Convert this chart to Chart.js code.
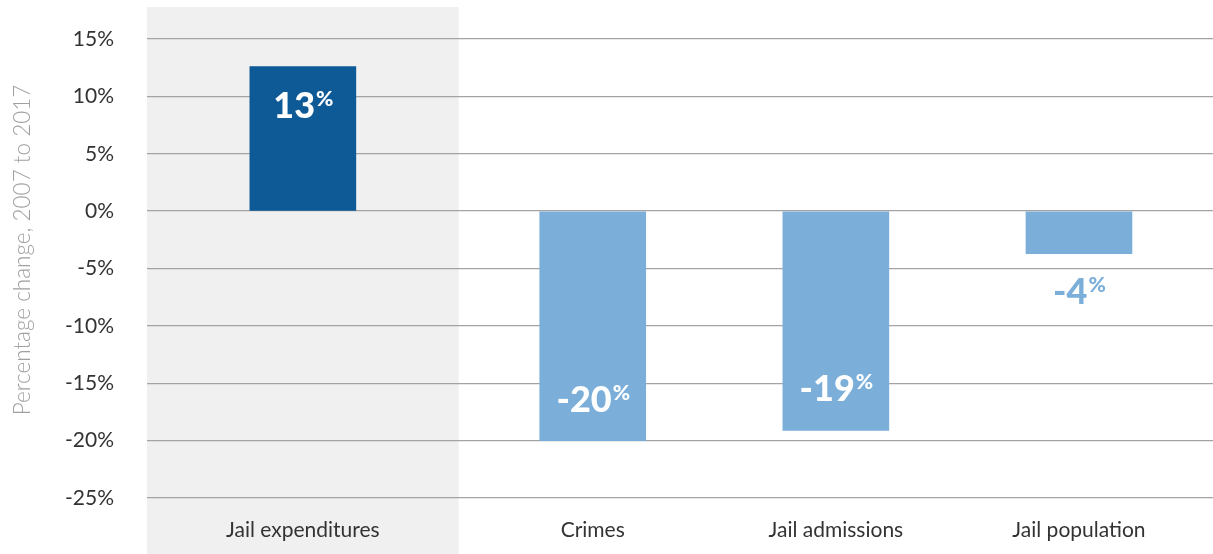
<!DOCTYPE html>
<html><head><meta charset="utf-8">
<script src="https://cdn.jsdelivr.net/npm/chart.js@4.4.1/dist/chart.umd.min.js"></script>
<style>html,body{margin:0;padding:0;background:#fff;}#wrap{width:1213px;height:554px;}</style>
</head><body><div id="wrap"><canvas id="c" width="1213" height="554"></canvas></div>
<script>
// ---- data ----
const categories = ['Jail expenditures', 'Crimes', 'Jail admissions', 'Jail population'];
const changeValues = [12.6, -20, -19.1, -3.7];
const yTickValues = [-25, -20, -15, -10, -5, 0, 5, 10, 15];
const yAxisTitle = 'Percentage change, 2007 to 2017';

// ---- layout (category slot centres on a 0..17.1 unit x-axis) ----
const slotCenters = [2.5, 7.15, 11.05, 14.95];
const highlightRange = [0, 5];
const barColors = ['#0E5A97', '#7BAFDA', '#7BAFDA', '#7BAFDA'];

const bgBand = {
  id: 'bgBand',
  beforeDraw(chart) {
    const {ctx, scales: {x}} = chart;
    ctx.save();
    ctx.fillStyle = '#F0F0F0';
    const x0 = x.getPixelForValue(highlightRange[0]);
    const x1 = x.getPixelForValue(highlightRange[1]);
    ctx.fillRect(x0, 7, x1 - x0, chart.height - 7);
    ctx.restore();
  }
};

const yTitle = {
  id: 'yTitle',
  afterDraw(chart) {
    const ctx = chart.ctx;
    ctx.save();
    ctx.translate(23, 250);
    ctx.rotate(-Math.PI / 2);
    ctx.fillStyle = '#a0a0a0';
    ctx.font = '300 22.5px Lato, "Open Sans", sans-serif';
    ctx.textAlign = 'center';
    ctx.textBaseline = 'middle';
    ctx.fillText(yAxisTitle, 0, 0);
    ctx.restore();
  }
};

const valueLabels = {
  id: 'valueLabels',
  afterDatasetsDraw(chart) {
    const ctx = chart.ctx;
    const meta = chart.getDatasetMeta(0);
    ctx.save();
    meta.data.forEach((bar, i) => {
      const v = changeValues[i];
      const txt = String(Math.round(v));
      const h = Math.abs(bar.base - bar.y);
      let cy, color;
      if (h > 80) {
        color = '#ffffff';
        cy = v >= 0 ? bar.y + 38 : bar.y - 42;
      } else {
        color = barColors[i];
        cy = v >= 0 ? bar.y - 36 : bar.y + 37;
      }
      ctx.fillStyle = color;
      ctx.textAlign = 'left';
      ctx.textBaseline = 'alphabetic';
      const mainFont = '900 36px Lato, sans-serif';
      const supFont = '900 21px Lato, sans-serif';
      ctx.font = mainFont;
      const w1 = ctx.measureText(txt).width;
      ctx.font = supFont;
      const w2 = ctx.measureText('%').width;
      const sx = bar.x - (w1 + w2) / 2;
      ctx.font = mainFont;
      ctx.fillText(txt, sx, cy + 13);
      ctx.font = supFont;
      ctx.fillText('%', sx + w1 + 1, cy + 1);
    });
    ctx.restore();
  }
};

new Chart(document.getElementById('c'), {
  type: 'bar',
  data: {
    datasets: [{
      data: changeValues.map((v, i) => ({x: slotCenters[i], y: v})),
      backgroundColor: barColors,
      borderWidth: 0,
      barThickness: 106
    }]
  },
  options: {
    responsive: false,
    devicePixelRatio: 1,
    animation: false,
    layout: {padding: {top: 39, right: 0, bottom: 0, left: 0}},
    plugins: {legend: {display: false}, tooltip: {enabled: false}},
    scales: {
      x: {
        type: 'linear',
        min: 0,
        max: 17.1,
        offset: false,
        grid: {display: false, drawTicks: false},
        border: {display: false},
        afterBuildTicks(s) { s.ticks = slotCenters.map(v => ({value: v})); },
        afterFit(s) { s.height = 56; },
        ticks: {
          autoSkip: false,
          maxRotation: 0,
          padding: 20,
          color: '#333333',
          font: {family: 'Lato, "Open Sans", sans-serif', size: 21},
          callback: (v) => categories[slotCenters.indexOf(v)]
        }
      },
      y: {
        min: yTickValues[0],
        max: yTickValues[yTickValues.length - 1],
        afterBuildTicks(s) { s.ticks = yTickValues.map(v => ({value: v})); },
        afterFit(s) { s.width = 147; s.paddingTop = 0; s.paddingBottom = 0; },
        grid: {color: '#a3a3a3', lineWidth: 1.3, drawTicks: false},
        border: {display: false},
        ticks: {
          padding: 33,
          color: '#333333',
          font: {family: 'Lato, "Open Sans", sans-serif', size: 21},
          callback: (v) => v + '%'
        }
      }
    }
  },
  plugins: [bgBand, yTitle, valueLabels]
});
</script></body></html>
